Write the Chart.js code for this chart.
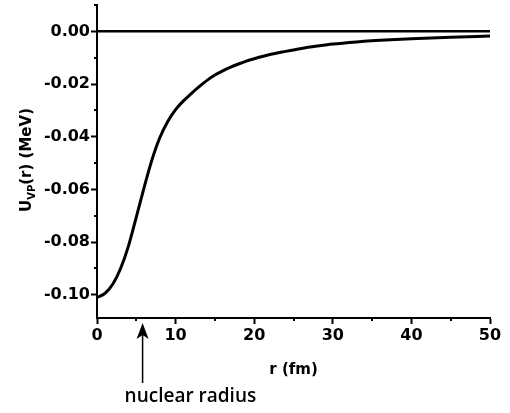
<!DOCTYPE html>
<html><head><meta charset="utf-8">
<script src="https://cdn.jsdelivr.net/npm/chart.js@4/dist/chart.umd.min.js"></script>
<style>html,body{margin:0;padding:0;background:#fff}</style>
</head><body>
<canvas id="c" width="510" height="413"></canvas>
<script>
const rValues = [0,1,2,3,4,5,6,7,8,9,10,11,12,13,14,15,16,17,18,19,20,22,24,26,28,30,33,36,40,45,50];
const uValues = [-0.1010,-0.0995,-0.0960,-0.0900,-0.0815,-0.0705,-0.0592,-0.0487,-0.0403,-0.0342,-0.0297,-0.0264,-0.0236,-0.0210,-0.0186,-0.0166,-0.0150,-0.0136,-0.0124,-0.0113,-0.0104,-0.0088,-0.0076,-0.0065,-0.0056,-0.0048,-0.0040,-0.0034,-0.0028,-0.0022,-0.0018];
const baselineR = [0, 50];
const baselineU = [0, 0];
const xTicks = [0,10,20,30,40,50];
const xMinorTicks = [5,15,25,35,45];
const yTicks = [0,-0.02,-0.04,-0.06,-0.08,-0.10];
const yMinorTicks = [0.01,-0.01,-0.03,-0.05,-0.07,-0.09];
const xTitle = 'r (fm)';
const yTitleMain = 'U';
const yTitleSub = 'VP';
const yTitleRest = '(r) (MeV)';
const arrowLabel = 'nuclear radius';
const nuclearRadius = 5.8;

const tickFont = {family:'DejaVu Sans', weight:'bold', size:16};

const extras = {
  id:'extras',
  afterDraw(chart){
    const ctx = chart.ctx, xs = chart.scales.x, ys = chart.scales.y, ca = chart.chartArea;
    ctx.save();
    ctx.strokeStyle = '#000'; ctx.fillStyle = '#000'; ctx.lineWidth = 2;
    // minor ticks
    yMinorTicks.forEach(v=>{
      const py = Math.round(ys.getPixelForValue(v));
      ctx.beginPath(); ctx.moveTo(ca.left-3, py); ctx.lineTo(ca.left, py); ctx.stroke();
    });
    xMinorTicks.forEach(v=>{
      const px = Math.round(xs.getPixelForValue(v));
      ctx.beginPath(); ctx.moveTo(px, ca.bottom); ctx.lineTo(px, ca.bottom+3); ctx.stroke();
    });
    // y title with subscript
    ctx.save();
    ctx.translate(31, 160);
    ctx.rotate(-Math.PI/2);
    ctx.textBaseline = 'alphabetic';
    const fMain = 'bold 15px "DejaVu Sans"', fSub = 'bold 10px "DejaVu Sans"';
    ctx.font = fMain; const wU = ctx.measureText(yTitleMain).width; const wR = ctx.measureText(yTitleRest).width;
    ctx.font = fSub; const wS = ctx.measureText(yTitleSub).width;
    let x0 = -(wU + wS + wR)/2;
    ctx.font = fMain; ctx.fillText(yTitleMain, x0, 0); x0 += wU;
    ctx.font = fSub; ctx.fillText(yTitleSub, x0, 4); x0 += wS;
    ctx.font = fMain; ctx.fillText(yTitleRest, x0, 0);
    ctx.restore();
    // arrow
    const ax = xs.getPixelForValue(nuclearRadius);
    const tipY = ca.bottom + 5;
    ctx.beginPath();
    ctx.moveTo(ax, tipY);
    ctx.lineTo(ax-6, tipY+16);
    ctx.lineTo(ax, tipY+12);
    ctx.lineTo(ax+6, tipY+16);
    ctx.closePath(); ctx.fill();
    ctx.lineWidth = 1.5;
    ctx.beginPath(); ctx.moveTo(ax, tipY+12); ctx.lineTo(ax, tipY+60); ctx.stroke();
    ctx.font = '600 19px "Open Sans"';
    ctx.textBaseline = 'alphabetic';
    ctx.fillText(arrowLabel, ax-18, 402);
    ctx.restore();
  }
};

new Chart(document.getElementById('c'), {
  type:'line',
  data:{
    datasets:[
      {data: baselineR.map((r,i)=>({x:r, y:baselineU[i]})), borderColor:'#000', borderWidth:2.5, pointRadius:0, tension:0},
      {data: rValues.map((r,i)=>({x:r, y:uValues[i]})), borderColor:'#000', borderWidth:3, pointRadius:0, cubicInterpolationMode:'monotone'}
    ]
  },
  options:{
    responsive:false, animation:false, devicePixelRatio:1,
    layout:{padding:{top:5, right:20, left:0, bottom:0}},
    plugins:{legend:{display:false}, tooltip:{enabled:false}},
    scales:{
      x:{
        type:'linear', min:0, max:50,
        afterBuildTicks: s=>{ s.ticks = xTicks.map(v=>({value:v})); },
        afterFit: s=>{ s.height = 95; s.paddingLeft = 0; s.paddingRight = 0; },
        ticks:{font:tickFont, color:'#000', padding:2, maxRotation:0, callback:v=>String(v)},
        grid:{drawOnChartArea:false, drawTicks:true, tickLength:6, tickWidth:2, tickColor:'#000'},
        border:{display:true, color:'#000', width:2},
        title:{display:true, text:xTitle, color:'#000', font:{family:'DejaVu Sans', weight:'bold', size:15}, padding:{top:0, bottom:34}}
      },
      y:{
        type:'linear', min:-0.1088, max:0.01,
        afterBuildTicks: s=>{ s.ticks = yTicks.map(v=>({value:v})); },
        afterFit: s=>{ s.width = 97; s.paddingTop = 0; s.paddingBottom = 0; },
        ticks:{font:tickFont, color:'#000', padding:1, callback:v=>v.toFixed(2)},
        grid:{drawOnChartArea:false, drawTicks:true, tickLength:6, tickWidth:2, tickColor:'#000'},
        border:{display:true, color:'#000', width:2}
      }
    }
  },
  plugins:[extras]
});
</script>
</body></html>
